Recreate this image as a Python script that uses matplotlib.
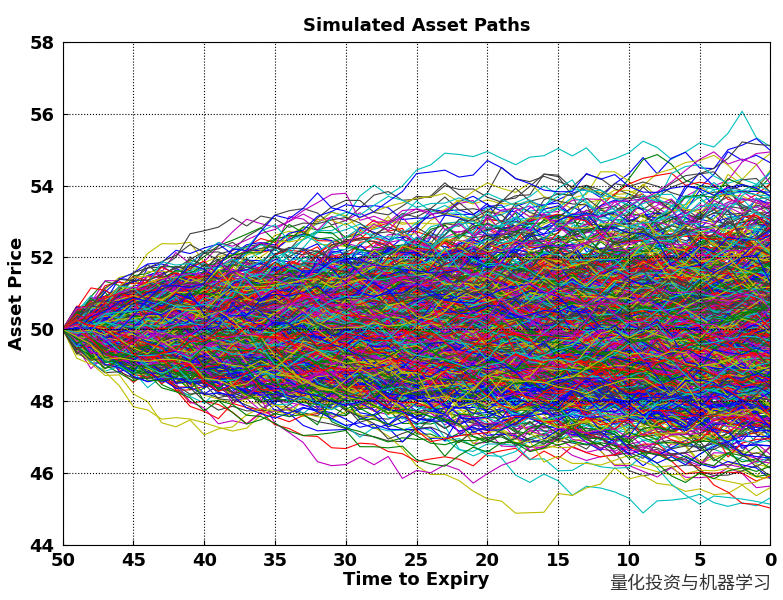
import numpy as np
import matplotlib.pyplot as plt

plt.rcParams['font.family'] = ['DejaVu Sans']

# chart parameters (Monte Carlo paths like the original)
S0 = 50.0
days_to_expiry = 50
daily_vol = 0.0050
n_paths = 1000
seed = 7
matlab_colors = ["#0000ff", "#008000", "#ff0000", "#00bfbf", "#bf00bf", "#bfbf00", "#404040"]
x_ticks = [50, 45, 40, 35, 30, 25, 20, 15, 10, 5, 0]
y_ticks = [44, 46, 48, 50, 52, 54, 56, 58]

rng = np.random.default_rng(seed)
steps = rng.normal(0, daily_vol, size=(days_to_expiry, n_paths))
paths = S0 * np.exp(np.vstack([np.zeros((1, n_paths)), np.cumsum(steps, axis=0)]))
t = np.arange(days_to_expiry, -1, -1)

fig = plt.figure(figsize=(7.83, 6), dpi=100)
ax = fig.add_axes([0.080, 0.092, 0.904, 0.838])
for i in range(n_paths):
    ax.plot(t, paths[:, i], color=matlab_colors[i % len(matlab_colors)], lw=0.8)

ax.set_xlim(50, 0)
ax.set_ylim(44, 58)
ax.set_xticks(x_ticks)
ax.set_yticks(y_ticks)
ax.grid(True, color='black', linestyle=':', linewidth=0.8)
ax.set_axisbelow(False)
ax.tick_params(labelsize=13, direction='in')
ax.tick_params(axis='x', pad=5)
ax.tick_params(axis='y', pad=6)
for lab in ax.get_xticklabels() + ax.get_yticklabels():
    lab.set_fontweight('bold')
ax.set_title('Simulated Asset Paths', fontsize=13, fontweight='bold', pad=8)
ax.set_xlabel('Time to Expiry', fontsize=13, fontweight='bold', labelpad=1)
ax.set_ylabel('Asset Price', fontsize=13, fontweight='bold', labelpad=2)

fig.text(0.985, 0.012, '量化投资与机器学习', family=['Noto Sans CJK SC', 'DejaVu Sans'],
         fontsize=13, ha='right', va='bottom', color='#333333',
         bbox=dict(facecolor='white', alpha=0.7, edgecolor='none', pad=1))

fig.savefig('out.png', dpi=100)
